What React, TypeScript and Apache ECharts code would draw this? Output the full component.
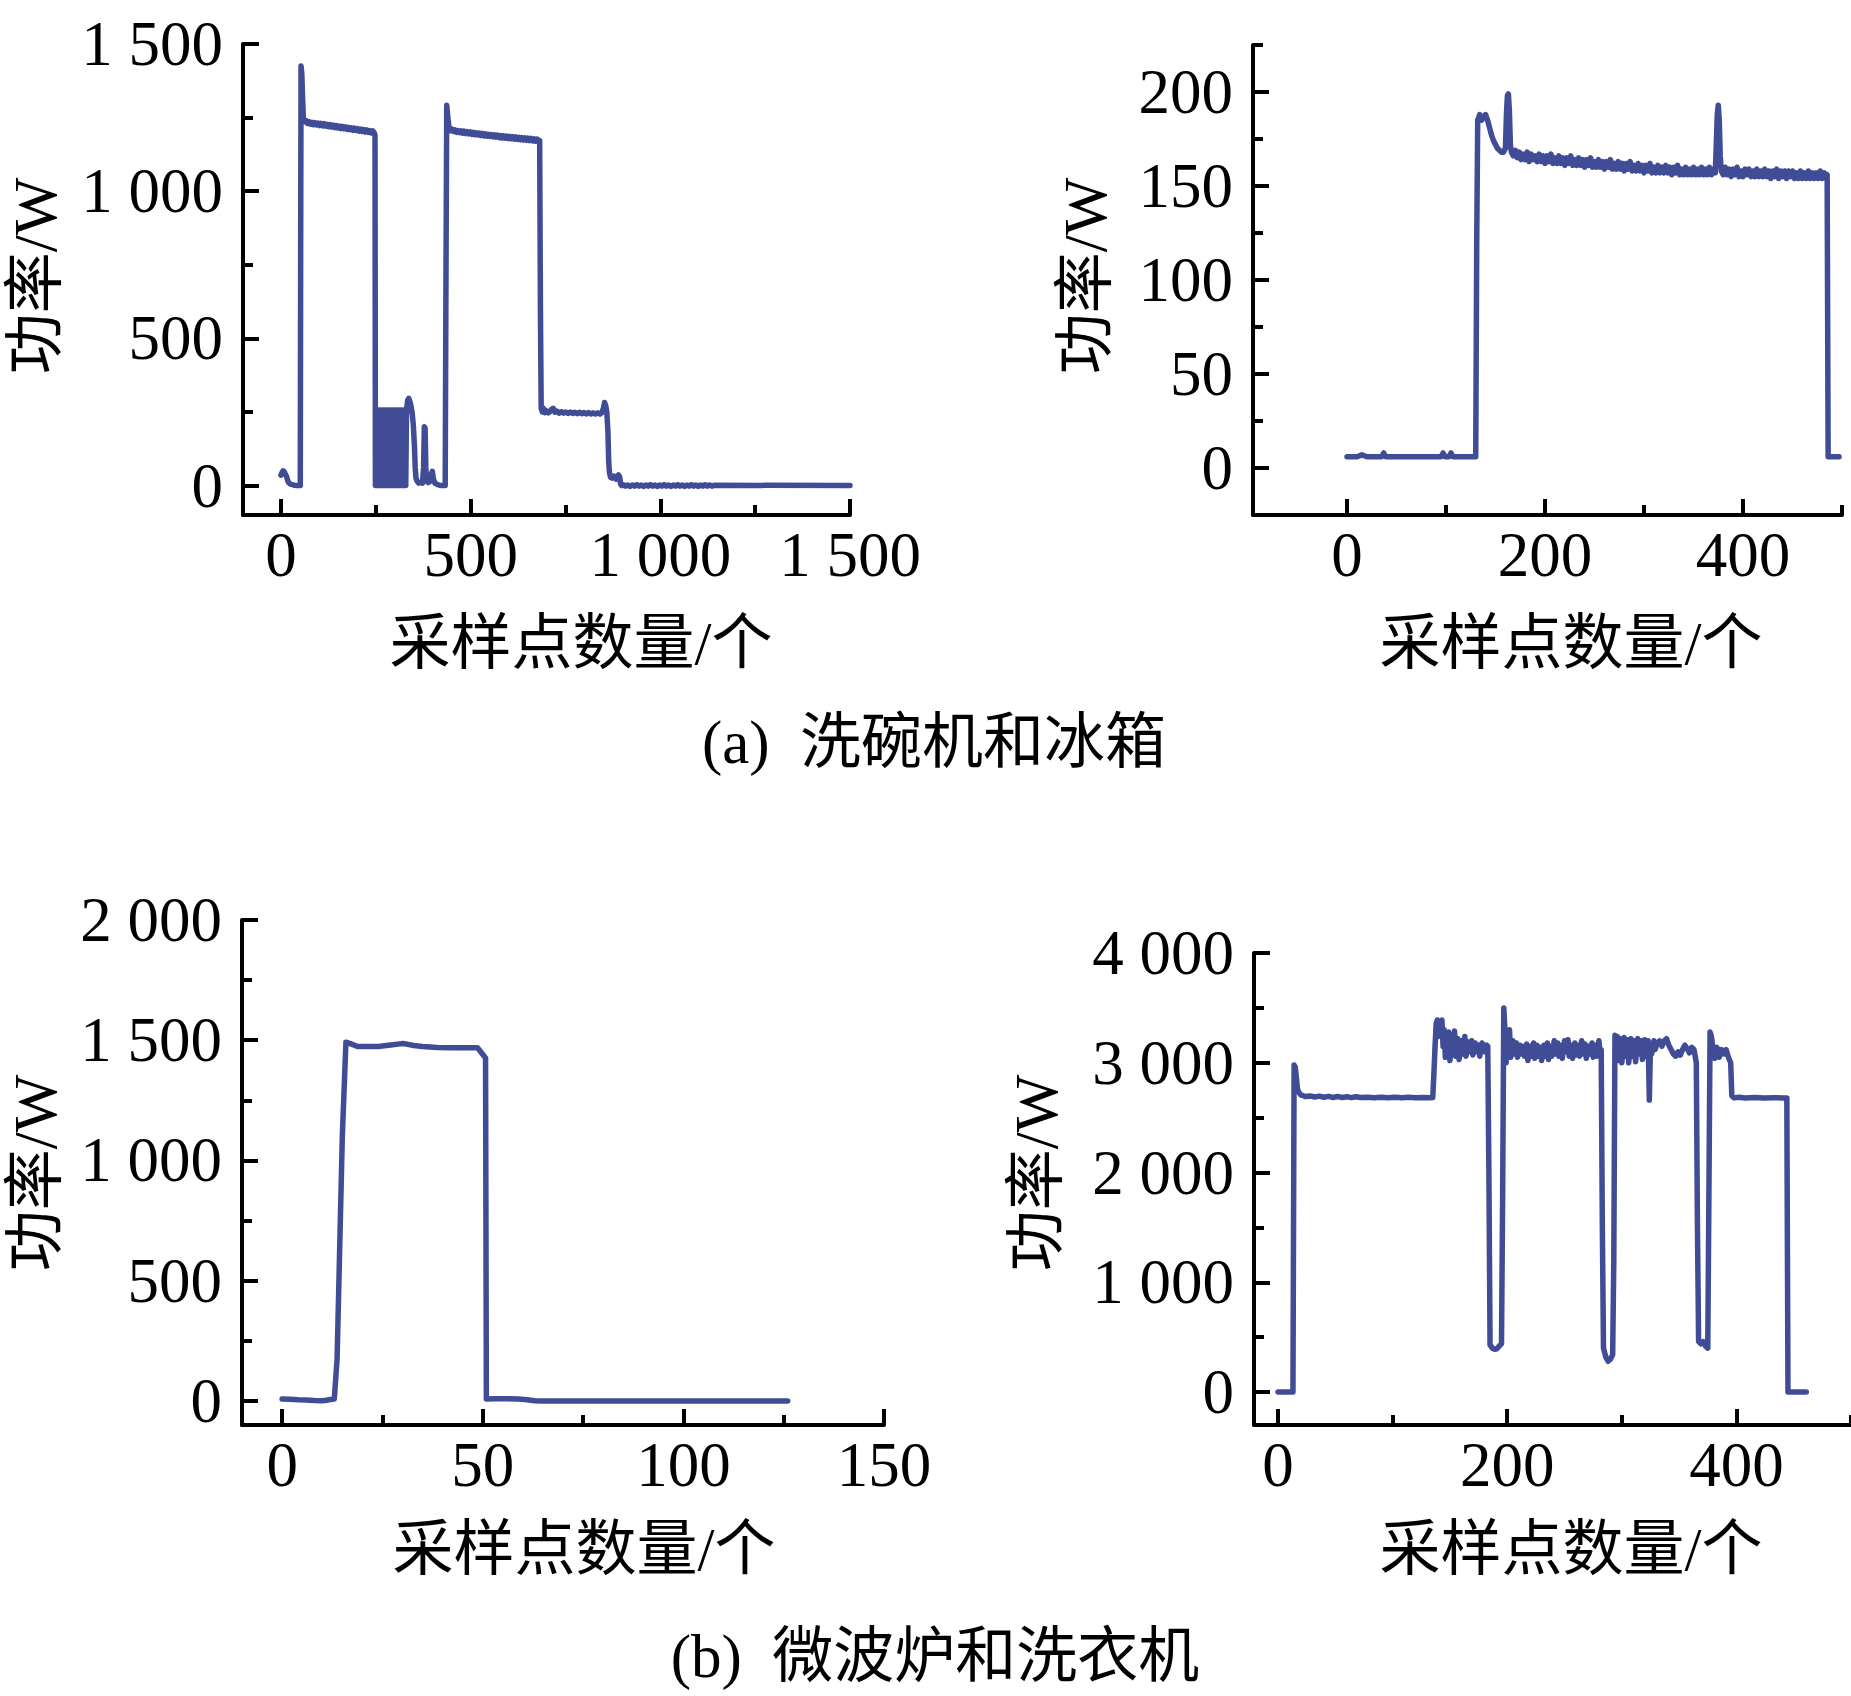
import React, { useEffect, useRef } from "react";
import * as echarts from "echarts";

// ---------------- data ----------------
const dishwasher: [number, number][] = [
  [0, 35], [3, 44], [6, 50], [9, 46], [12, 38], [15, 30], [18, 16], [21, 9], [25, 5], [30, 3], [36, 1], [42, 0], [48, 0], [51, 0],
  [52, 800], [53, 1425], [55, 1400], [57, 1320], [59, 1250], [62, 1236], [66, 1240], [70, 1230], [74, 1236], [78, 1228], [82, 1234],
  [86, 1226], [90, 1233], [94, 1225], [98, 1231], [102, 1223], [106, 1230], [110, 1222], [114, 1229], [118, 1221], [122, 1227],
  [126, 1219], [130, 1226], [134, 1218], [138, 1224], [142, 1216], [146, 1223], [150, 1215], [154, 1221], [158, 1213], [162, 1220],
  [166, 1212], [170, 1218], [174, 1210], [178, 1217], [182, 1209], [186, 1215], [190, 1207], [194, 1214], [198, 1206], [202, 1212],
  [206, 1204], [210, 1211], [214, 1203], [218, 1209], [222, 1201], [226, 1208], [230, 1200], [234, 1206], [238, 1198], [242, 1205],
  [246, 1198], [248, 1190],
  [249, 0], [251, 257], [253, 0], [255, 257], [257, 0], [259, 257], [261, 0], [263, 257], [265, 0], [267, 257], [269, 0], [271, 257],
  [273, 0], [275, 257], [277, 0], [279, 257], [281, 0], [283, 257], [285, 0], [287, 257], [289, 0], [291, 257], [293, 0], [295, 257],
  [297, 0], [299, 257], [301, 0], [303, 257], [305, 0], [307, 257], [309, 0], [311, 257], [313, 0], [315, 257], [317, 0], [319, 257],
  [321, 0], [323, 257], [325, 0], [327, 257], [329, 0], [331, 257],
  [334, 290], [337, 296], [340, 285], [343, 270], [346, 245], [349, 205], [352, 130], [354, 60], [356, 25], [359, 15], [363, 8],
  [368, 10], [373, 8], [376, 60], [378, 200], [380, 195], [382, 60], [384, 15], [388, 10], [393, 14], [397, 40], [399, 48], [402, 22],
  [406, 8], [412, 4], [418, 1], [424, 0], [430, 0], [433, 0],
  [435, 700], [437, 1292], [440, 1250], [443, 1215], [447, 1206], [451, 1211], [455, 1203], [459, 1208], [463, 1200], [467, 1206],
  [471, 1199], [475, 1205], [479, 1197], [483, 1204], [487, 1196], [491, 1202], [495, 1195], [499, 1201], [503, 1193], [507, 1200],
  [511, 1192], [515, 1198], [519, 1191], [523, 1197], [527, 1189], [531, 1196], [535, 1188], [539, 1195], [543, 1187], [547, 1193],
  [551, 1186], [555, 1192], [559, 1185], [563, 1191], [567, 1184], [571, 1190], [575, 1182], [579, 1189], [583, 1181], [587, 1188],
  [591, 1180], [595, 1187], [599, 1179], [603, 1186], [607, 1178], [611, 1185], [615, 1177], [619, 1184], [623, 1176], [627, 1183],
  [631, 1175], [635, 1182], [639, 1174], [643, 1181], [647, 1173], [651, 1180], [655, 1172], [659, 1179], [663, 1171], [667, 1178],
  [671, 1170], [675, 1177], [679, 1170], [682, 1172],
  [684, 600], [686, 262], [689, 250], [692, 262], [696, 248], [700, 254], [705, 247], [710, 252], [714, 260], [718, 262], [722, 249],
  [727, 253], [733, 246], [739, 251], [745, 246], [751, 250], [757, 245], [763, 250], [769, 245], [775, 249], [781, 244], [787, 249],
  [793, 244], [799, 248], [805, 243], [811, 248], [817, 243], [823, 247], [829, 243], [835, 247], [841, 243], [846, 248], [850, 262],
  [853, 282], [856, 272], [859, 250], [862, 180], [864, 80], [866, 43], [869, 28], [873, 25], [878, 32], [883, 22], [887, 30],
  [890, 36], [893, 28], [895, 6], [898, 0],
  [902, 3], [908, -2], [914, 2], [920, -3], [926, 2], [932, -2], [938, 3], [944, -2], [950, 2], [956, -3], [962, 2], [968, -2],
  [974, 3], [980, -2], [986, 2], [992, -3], [998, 2], [1004, -2], [1010, 3], [1016, -2], [1022, 2], [1028, -3], [1034, 2],
  [1040, -2], [1046, 3], [1052, -2], [1058, 2], [1064, -3], [1070, 2], [1076, -2], [1082, 3], [1088, -2], [1094, 2], [1100, -3],
  [1106, 2], [1112, -2], [1118, 3], [1124, -2], [1130, 2], [1136, -2], [1142, 1], [1500, 0],
];

const fridge: [number, number][] = [
  [0, 6], [5, 6], [10, 6], [15, 7], [20, 6], [25, 6], [30, 6], [35, 6], [37, 8], [39, 6], [45, 6], [50, 6], [55, 6], [60, 6],
  [65, 6], [70, 6], [75, 6], [80, 6], [85, 6], [90, 6], [95, 6], [97, 8], [99, 6], [103, 6], [105, 8], [107, 6], [112, 6],
  [118, 6], [124, 6], [130, 6],
  [131, 120], [132, 185], [134, 188], [136, 185], [138, 187], [140, 188], [142, 185], [144, 181], [146, 177], [148, 174],
  [150, 172], [152, 170], [154, 169], [156, 168], [158, 168], [160, 170], [161, 188], [162, 198], [163, 199], [164, 190],
  [165, 172], [166, 168], [168, 166], [170, 169], [172, 165], [174, 168], [176, 164], [178, 167], [180, 164], [182, 168],
  [184, 163], [186, 167], [188, 164], [190, 166], [192, 163], [194, 167], [196, 163], [198, 166], [200, 162], [202, 166],
  [204, 163], [206, 167], [208, 162], [210, 165], [212, 162], [214, 166], [216, 162], [218, 165], [220, 161], [222, 165],
  [224, 162], [226, 166], [228, 161], [230, 164], [232, 161], [234, 165], [236, 161], [238, 164], [240, 160], [242, 164],
  [244, 161], [246, 165], [248, 160], [250, 163], [252, 160], [254, 164], [256, 160], [258, 163], [260, 159], [262, 163],
  [264, 160], [266, 164], [268, 159], [270, 162], [272, 159], [274, 163], [276, 159], [278, 162], [280, 158], [282, 162],
  [284, 159], [286, 163], [288, 158], [290, 161], [292, 158], [294, 162], [296, 158], [298, 161], [300, 157], [302, 161],
  [304, 158], [306, 162], [308, 157], [310, 160], [312, 157], [314, 161], [316, 157], [318, 160], [320, 157], [322, 161],
  [324, 157], [326, 160], [328, 156], [330, 160], [332, 157], [334, 161], [336, 156], [338, 159], [340, 156], [342, 160],
  [344, 156], [346, 159], [348, 156], [350, 160], [352, 156], [354, 159], [356, 156], [358, 160], [360, 156], [362, 159],
  [364, 156], [366, 160], [368, 156], [370, 159], [372, 157], [373, 172], [374, 188], [375, 193], [376, 185], [377, 166],
  [378, 158], [380, 156], [382, 160], [384, 156], [386, 159], [388, 155], [390, 159], [392, 156], [394, 160], [396, 155],
  [398, 158], [400, 155], [402, 159], [404, 156], [406, 159], [408, 155], [410, 158], [412, 155], [414, 159], [416, 155],
  [418, 158], [420, 155], [422, 159], [424, 155], [426, 158], [428, 154], [430, 158], [432, 155], [434, 159], [436, 154],
  [438, 158], [440, 155], [442, 158], [444, 154], [446, 158], [448, 155], [450, 158], [452, 154], [454, 157], [456, 154],
  [458, 158], [460, 154], [462, 157], [464, 154], [466, 158], [468, 154], [470, 157], [472, 154], [474, 157], [476, 154],
  [478, 158], [480, 154], [482, 157], [484, 155], [485, 156], [486, 6], [490, 6], [497, 6],
];

const microwave: [number, number][] = [
  [0, 8], [2, 7], [4, 5], [6, 4], [8, 2], [10, 1], [11, 3], [12, 6], [13, 8], [13.7, 175], [15, 1100], [15.9, 1492],
  [17, 1486], [18.8, 1474], [21, 1474], [24, 1474], [27, 1480], [29.9, 1486], [31, 1484], [32.8, 1478], [35, 1474],
  [38.7, 1470], [42, 1469], [45, 1469], [48.7, 1469], [50.7, 1426], [50.9, 8], [53, 9], [56, 9], [59, 8], [61, 5], [63, 1],
  [65, 0], [70, 0], [80, 0], [90, 0], [100, 0], [110, 0], [120, 0], [126, 0],
];

const washer: [number, number][] = [
  [0, 0], [13, 0], [14, 2980], [15, 2960], [16, 2860], [17, 2760], [18, 2733], [20, 2705], [22, 2700], [24, 2692], [28, 2698],
  [32, 2688], [36, 2696], [40, 2686], [44, 2694], [48, 2684], [52, 2692], [56, 2684], [60, 2690], [64, 2682], [68, 2690],
  [72, 2684], [78, 2686], [84, 2682], [90, 2686], [96, 2682], [102, 2685], [108, 2682], [114, 2685], [120, 2682], [126, 2684],
  [132, 2682], [135, 2683],
  [136, 2900], [137, 3150], [138, 3360], [139, 3390], [140, 3240], [141, 3380], [142, 3280], [143, 3390], [144, 3150],
  [145, 3300], [146, 3050], [147, 3260], [148, 3060], [149, 3280], [150, 3020], [152, 3250], [153, 3080], [154, 3290],
  [155, 3060], [157, 3220], [158, 3030], [160, 3200], [161, 3080], [163, 3240], [164, 3060], [166, 3190], [167, 3100],
  [169, 3200], [170, 3070], [172, 3180], [173, 3100], [175, 3160], [176, 3060], [178, 3180], [180, 3100], [182, 3160],
  [183, 3150], [184, 2000], [185, 430], [187, 400], [189, 390], [191, 395], [193, 420], [195, 440], [196, 1800], [197, 3500],
  [198, 3300], [199, 3000], [200, 3250], [201, 3080], [202, 3300], [203, 3050], [205, 3200], [206, 3080], [208, 3180],
  [209, 3050], [211, 3160], [212, 3080], [214, 3150], [215, 3060], [217, 3170], [218, 3020], [220, 3150], [221, 3060],
  [223, 3180], [224, 3040], [226, 3160], [227, 3060], [229, 3140], [230, 3020], [232, 3160], [233, 3060], [235, 3180],
  [236, 3030], [238, 3150], [239, 3060], [241, 3200], [242, 3080], [244, 3180], [245, 3060], [247, 3160], [248, 3040],
  [250, 3200], [251, 3100], [253, 3210], [254, 3060], [256, 3160], [257, 3040], [259, 3180], [260, 3070], [262, 3160],
  [263, 3060], [265, 3200], [266, 3080], [268, 3170], [269, 3040], [271, 3150], [272, 3080], [274, 3180], [275, 3050],
  [277, 3160], [278, 3060], [280, 3200], [281, 3100], [282, 3120], [283, 1500], [284, 400], [286, 320], [288, 280],
  [290, 300], [292, 340], [293, 1200], [294, 3250], [295, 3100], [296, 3240], [297, 3020], [299, 3220], [300, 3000],
  [302, 3230], [303, 3060], [305, 3210], [306, 3000], [308, 3220], [309, 3060], [311, 3200], [312, 3010], [314, 3220],
  [315, 3080], [317, 3200], [318, 3030], [320, 3210], [321, 3060], [323, 3200], [324, 2660], [325, 3150], [326, 3080],
  [328, 3200], [329, 3120], [331, 3180], [333, 3200], [335, 3150], [337, 3200], [339, 3220], [341, 3160], [343, 3120],
  [345, 3080], [347, 3060], [349, 3100], [351, 3070], [353, 3120], [355, 3160], [357, 3130], [359, 3090], [361, 3140],
  [363, 3120], [365, 3000], [366, 1500], [367, 460], [369, 440], [371, 460], [373, 420], [375, 400], [376, 1800],
  [377, 3280], [378, 3250], [380, 3100], [381, 3040], [383, 3140], [385, 3050], [387, 3120], [389, 3080], [391, 3120],
  [393, 3050], [395, 3000], [396, 2700], [398, 2680], [402, 2686], [408, 2680], [416, 2684], [424, 2680], [432, 2682],
  [440, 2680], [444, 2680], [445, 0], [452, 0], [461, 0],
];

// tick values
const dwXMajor = [0, 500, 1000, 1500];
const dwXMinor = [250, 750, 1250];
const dwYMajor = [0, 500, 1000, 1500];
const dwYMinor = [250, 750, 1250];
const frXMajor = [0, 200, 400];
const frXMinor = [100, 300, 500];
const frYMajor = [0, 50, 100, 150, 200];
const frYMinor = [25, 75, 125, 175, 225];
const mwXMajor = [0, 50, 100, 150];
const mwXMinor = [25, 75, 125];
const mwYMajor = [0, 500, 1000, 1500, 2000];
const mwYMinor = [250, 750, 1250, 1750];
const waXMajor = [0, 200, 400];
const waXMinor = [100, 300, 500];
const waYMajor = [0, 1000, 2000, 3000, 4000];
const waYMinor = [500, 1500, 2500, 3500];

const yTitle = "功率/W";
const xTitle = "采样点数量/个";
const captionA = "(a)  洗碗机和冰箱";
const captionB = "(b)  微波炉和洗衣机";

// ---------------- styling ----------------
const LINE_COLOR = "#404c96";
const NUM_FONT = '"Liberation Serif", "Times New Roman", serif';
const CJK_FONT = '"Liberation Serif", "Noto Sans CJK SC", serif';
const FS = 63;

function fmt(v: number): string {
  if (Math.abs(v) >= 1000) {
    return Math.floor(v / 1000) + " " + String(v % 1000).padStart(3, "0");
  }
  return String(v);
}

type Panel = {
  rect: { left: number; top: number; width: number; height: number };
  x: [number, number];
  y: [number, number];
  xMajor: number[];
  xMinor: number[];
  yMajor: number[];
  yMinor: number[];
  data: [number, number][];
};

const panels: Panel[] = [
  { rect: { left: 243, top: 44, width: 607, height: 471 }, x: [-100, 1500], y: [-100, 1500], xMajor: dwXMajor, xMinor: dwXMinor, yMajor: dwYMajor, yMinor: dwYMinor, data: dishwasher },
  { rect: { left: 1253, top: 45, width: 589, height: 470 }, x: [-95, 500], y: [-25, 225], xMajor: frXMajor, xMinor: frXMinor, yMajor: frYMajor, yMinor: frYMinor, data: fridge },
  { rect: { left: 242, top: 920, width: 642, height: 505 }, x: [-10, 150], y: [-100, 2000], xMajor: mwXMajor, xMinor: mwXMinor, yMajor: mwYMajor, yMinor: mwYMinor, data: microwave },
  { rect: { left: 1254, top: 953, width: 597, height: 472 }, x: [-21, 500], y: [-300, 4000], xMajor: waXMajor, xMinor: waXMinor, yMajor: waYMajor, yMinor: waYMinor, data: washer },
];

function buildOption() {
  const grids: any[] = [];
  const xAxes: any[] = [];
  const yAxes: any[] = [];
  const series: any[] = [];
  const axisLineStyle = { color: "#000", width: 4 };
  panels.forEach((p, i) => {
    for (let k = 0; k < 2; k++) {
      const major = k === 0;
      const gi = i * 2 + k;
      grids.push({ ...p.rect, containLabel: false, outerBoundsMode: "none" });
      xAxes.push({
        type: "value",
        gridIndex: gi,
        min: p.x[0],
        max: p.x[1],
        position: "bottom",
        axisLine: { show: major, onZero: false, lineStyle: axisLineStyle },
        axisTick: {
          show: true,
          inside: true,
          length: major ? 16 : 10,
          lineStyle: axisLineStyle,
          customValues: major ? p.xMajor : p.xMinor,
        },
        axisLabel: major
          ? { show: true, customValues: p.xMajor, formatter: fmt, fontSize: FS, fontFamily: NUM_FONT, color: "#000", margin: 8 }
          : { show: false },
        splitLine: { show: false },
      });
      yAxes.push({
        type: "value",
        gridIndex: gi,
        min: p.y[0],
        max: p.y[1],
        position: "left",
        axisLine: { show: major, onZero: false, lineStyle: axisLineStyle },
        axisTick: {
          show: true,
          inside: true,
          length: major ? 16 : 10,
          lineStyle: axisLineStyle,
          customValues: major ? p.yMajor : p.yMinor,
        },
        axisLabel: major
          ? { show: true, customValues: p.yMajor, formatter: fmt, fontSize: FS, fontFamily: NUM_FONT, color: "#000", margin: 20 }
          : { show: false },
        splitLine: { show: false },
      });
    }
    series.push({
      type: "line",
      xAxisIndex: i * 2,
      yAxisIndex: i * 2,
      data: p.data,
      showSymbol: false,
      symbol: "none",
      lineStyle: { color: LINE_COLOR, width: 5.5, join: "round", cap: "round" },
      itemStyle: { color: LINE_COLOR },
      silent: true,
    });
  });

  const textStyle = (t: string, size: number) => ({
    text: t,
    fontSize: size,
    fontFamily: CJK_FONT,
    fill: "#000",
    align: "center",
    verticalAlign: "middle",
    textAlign: "center",
    textVerticalAlign: "middle",
  });

  const graphic: any[] = [];
  const yTitlePos = [
    [35, 276],
    [1085, 276],
    [35, 1173],
    [1036, 1173],
  ];
  yTitlePos.forEach(([x, y]) => {
    graphic.push({ type: "text", x, y, rotation: Math.PI / 2, style: textStyle(yTitle, 61) });
  });
  const xTitlePos = [
    [581, 643],
    [1571, 643],
    [584, 1549],
    [1571, 1549],
  ];
  xTitlePos.forEach(([x, y]) => {
    graphic.push({ type: "text", x, y, style: textStyle(xTitle, 61) });
  });
  graphic.push({ type: "text", x: 934, y: 742, style: textStyle(captionA, 61) });
  graphic.push({ type: "text", x: 935, y: 1656, style: textStyle(captionB, 61) });

  return {
    animation: false,
    backgroundColor: "#fff",
    grid: grids,
    xAxis: xAxes,
    yAxis: yAxes,
    series,
    graphic,
  };
}

export default function App() {
  const ref = useRef<HTMLDivElement>(null);
  useEffect(() => {
    if (!ref.current) return;
    const chart = echarts.init(ref.current, null, { renderer: "svg" });
    chart.setOption(buildOption() as any);
    return () => {
      chart.dispose();
    };
  }, []);
  return (
    <div
      ref={ref}
      style={{ position: "absolute", left: 0, top: 0, width: 1851, height: 1696, background: "#fff" }}
    />
  );
}
